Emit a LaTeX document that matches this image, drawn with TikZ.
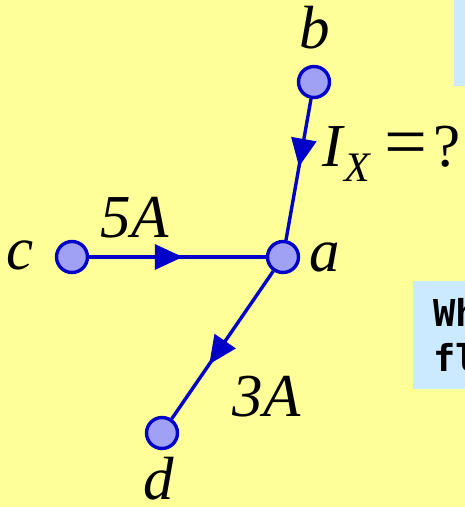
\documentclass[tikz,border=0pt]{standalone}
\usepackage{fontspec}
\setmainfont{Liberation Serif}
\newfontfamily\boxfont{DejaVu Sans Mono}
\usetikzlibrary{arrows.meta,decorations.markings}
\definecolor{bgyellow}{RGB}{255,255,153}
\definecolor{boxblue}{RGB}{204,234,255}
\definecolor{wireblue}{RGB}{0,0,200}
\definecolor{nodefill}{RGB}{160,160,245}
\begin{document}
\begin{tikzpicture}[x=1pt, y=1pt,
  nd/.style={circle, draw=wireblue, fill=nodefill, line width=3.4pt,
             minimum size=31pt, inner sep=0pt},
  edge/.style={line width=3.4pt, wireblue,
               decoration={markings, mark=at position #1 with
                 {\arrow{Triangle[length=28pt, width=25pt]}}},
               postaction={decorate}},
  lbl/.style={inner sep=0pt, font=\fontsize{61}{64}\selectfont\itshape},
  note/.style={inner sep=0pt, anchor=base west,
               font=\fontsize{37}{40}\selectfont\boxfont\bfseries}
]
  \clip (0,0) rectangle (465,507);
  \fill[bgyellow] (0,0) rectangle (465,507);
  \fill[boxblue] (454,421) rectangle (465,507);
  \fill[boxblue] (413,118) rectangle (465,226);

  \node[nd] (a) at (283,250) {};
  \node[nd] (b) at (314,425) {};
  \node[nd] (c) at (72,250)  {};
  \node[nd] (d) at (162,74)  {};

  \draw[edge=0.48] (b) -- (a);
  \draw[edge=0.53] (c) -- (a);
  \draw[edge=0.63] (a) -- (d);

  \node[lbl, anchor=base] (lb) at (315,458) {b};
  \node[lbl, anchor=base west] (la) at (309,235) {a};
  \node[lbl, anchor=base] (lc) at (20,237) {c};
  \node[lbl, anchor=base] (ld) at (159,8) {d};
  \node[lbl, anchor=base west] (i5) at (100,269) {5\kern1pt A};
  \node[lbl, anchor=base west] (ix) at (322,340)
    {I\kern2pt\raisebox{-15pt}{\fontsize{42}{44}\selectfont X}%
     \hspace{14pt}\upshape\scalebox{1.25}[1.2]{=}\hspace{6pt}?};
  \node[lbl, anchor=base west] (i3) at (232,90) {3\kern1pt A};

  \node[note] (q1) at (433,180) {Wh};
  \node[note] (q2) at (433,135) {fl};
\end{tikzpicture}
\end{document}
